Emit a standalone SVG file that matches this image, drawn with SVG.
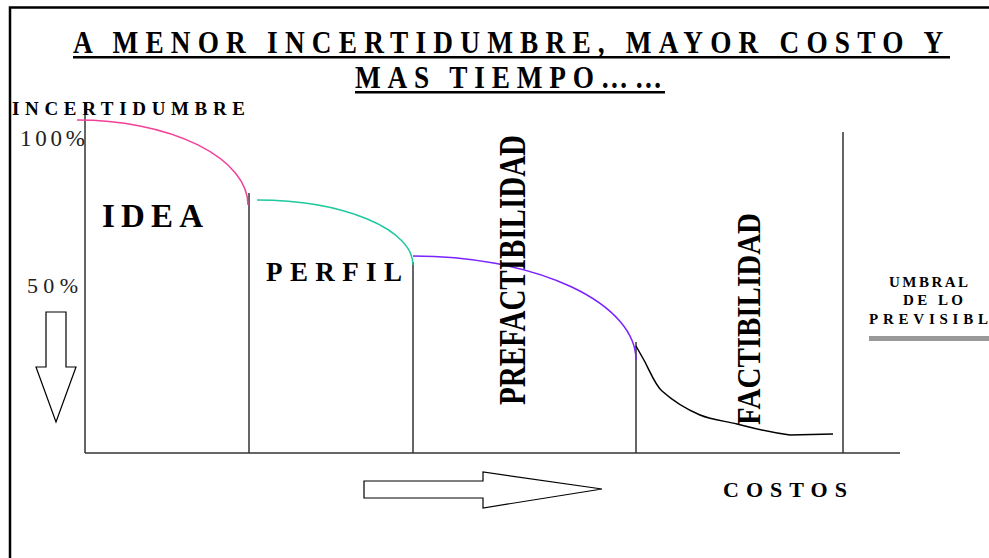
<svg xmlns="http://www.w3.org/2000/svg" width="989" height="558" viewBox="0 0 989 558">
<style>
.t{font-family:"Liberation Serif","Times New Roman",serif;font-weight:bold;fill:#000}
.n{font-family:"Liberation Serif","Times New Roman",serif;font-weight:normal;fill:#222}
.ax{stroke:#333;stroke-width:1.5;fill:none}
.cv{stroke-width:1.5;fill:none}
.ar{stroke:#000;stroke-width:1.2;fill:#fff}
</style>
<rect width="989" height="558" fill="#fff"/>
<path d="M10,558 V7.5 H989" stroke="#000" stroke-width="2.5" fill="none"/>

<g id="title">
<text class="t" transform="translate(73,53) scale(0.88,1)" font-size="31" textLength="989" lengthAdjust="spacing">A MENOR INCERTIDUMBRE, MAYOR COSTO Y</text>
<rect x="73" y="56" width="877" height="2.5" fill="#000"/>
<text class="t" transform="translate(355,88) scale(0.88,1)" font-size="31" textLength="349" lengthAdjust="spacing">MAS TIEMPO……</text>
<rect x="355" y="91" width="310" height="2.5" fill="#000"/>
</g>

<g id="axes">
<line class="ax" x1="85" y1="103" x2="85" y2="453"/>
<line class="ax" x1="85" y1="453" x2="900" y2="453"/>
<line class="ax" x1="249" y1="193" x2="249" y2="453"/>
<line class="ax" x1="413" y1="262" x2="413" y2="453"/>
<line class="ax" x1="636" y1="342" x2="636" y2="453"/>
<line class="ax" x1="843" y1="132" x2="843" y2="453" stroke-width="2"/>
</g>

<g id="curves">
<path class="cv" stroke="#f2409a" d="M77,120 A171,85 0 0 1 248,205"/>
<path class="cv" stroke="#1fc89e" d="M257,200 A156,65 0 0 1 413,265"/>
<path class="cv" stroke="#7a22ff" d="M413,256 A223,104 0 0 1 636,360"/>
<path class="cv" stroke="#000" d="M636,346 L645,362 C652,376 656,386 662,391 C672,400 686,409 700,415 C712,420 725,421 737,424 C750,427 765,432 790,435 L833,434"/>
</g>

<g id="labels">
<text class="t" x="12" y="115" font-size="19" textLength="233" lengthAdjust="spacing">INCERTIDUMBRE</text>
<text class="n" x="20" y="146" font-size="23" textLength="65" lengthAdjust="spacing">100%</text>
<text class="n" x="27" y="293" font-size="22" textLength="51" lengthAdjust="spacing">50%</text>
</g>

<g id="idea"><text class="t" x="102" y="227" font-size="33" textLength="101" lengthAdjust="spacing">IDEA</text></g>
<g id="perfil"><text class="t" x="266" y="281" font-size="27" textLength="136" lengthAdjust="spacing">PERFIL</text></g>
<g id="prefactibilidad"><text class="t" transform="translate(525,405) rotate(-90)" font-size="37" textLength="270" lengthAdjust="spacingAndGlyphs">PREFACTIBILIDAD</text></g>
<g id="factibilidad"><text class="t" transform="translate(760,425) rotate(-90)" font-size="33" textLength="212" lengthAdjust="spacingAndGlyphs">FACTIBILIDAD</text></g>

<g id="umbral">
<text class="t" x="889" y="287" font-size="15" textLength="79" lengthAdjust="spacing">UMBRAL</text>
<text class="t" x="903" y="305" font-size="15" textLength="60" lengthAdjust="spacing">DE LO</text>
<text class="t" x="869" y="324" font-size="15" textLength="119" lengthAdjust="spacing">PREVISIBL</text>
<rect x="869" y="336" width="120" height="5" fill="#999"/>
</g>

<g id="down-arrow"><polygon class="ar" points="46,312 66,312 66,367 76,367 56,422 36,367 46,367"/></g>
<g id="right-arrow"><polygon class="ar" points="364,481 483,481 483,472 602,489 483,508 483,498 364,498"/></g>
<g id="costos"><text class="t" x="723" y="497" font-size="22" textLength="124" lengthAdjust="spacing">COSTOS</text></g>
</svg>
